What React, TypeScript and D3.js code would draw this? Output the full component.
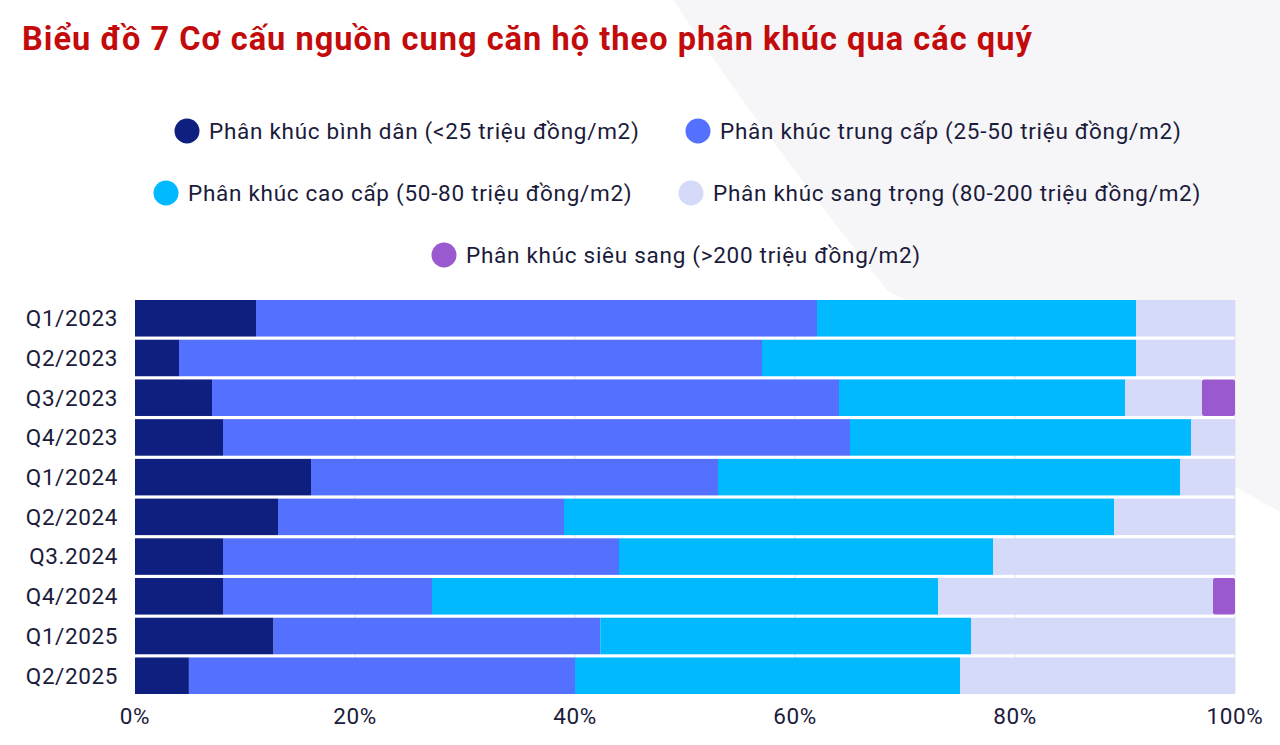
import React from "react";
import * as d3 from "d3";

const categories = ["Q1/2023", "Q2/2023", "Q3/2023", "Q4/2023", "Q1/2024", "Q2/2024", "Q3.2024", "Q4/2024", "Q1/2025", "Q2/2025"];
const seriesNames = [
  "Phân khúc bình dân (<25 triệu đồng/m2)",
  "Phân khúc trung cấp (25-50 triệu đồng/m2)",
  "Phân khúc cao cấp (50-80 triệu đồng/m2)",
  "Phân khúc sang trọng (80-200 triệu đồng/m2)",
  "Phân khúc siêu sang (>200 triệu đồng/m2)",
];
const binhDan = [11, 4, 7, 8, 16, 13, 8, 8, 12.6, 4.9];
const trungCap = [51, 53, 57, 57, 37, 26, 36, 19, 29.7, 35.1];
const caoCap = [29, 34, 26, 31, 42, 50, 34, 46, 33.7, 35];
const sangTrong = [9, 9, 7, 4, 5, 11, 22, 25, 24, 25];
const sieuSang = [0, 0, 3, 0, 0, 0, 0, 2, 0, 0];
const xTicks = [0, 20, 40, 60, 80, 100];
const colors = ["#0e1f80", "#5470ff", "#00b9ff", "#d5daf9", "#9b59cf"];

const W = 1280, H = 745;
const textColor = "#1b1b3b";
const FONT = "Roboto, 'Noto Sans', sans-serif";

export default function App() {
  const series = [binhDan, trungCap, caoCap, sangTrong, sieuSang];
  const x = d3.scaleLinear().domain([0, 100]).range([135, 1235]);
  const y = d3.scaleBand().domain(categories).range([300, 694]).paddingInner(0.08).paddingOuter(0);
  const rows = categories.map((c, i) => {
    const obj: any = { cat: c };
    series.forEach((s, k) => (obj["s" + k] = s[i]));
    return obj;
  });
  const stack = d3.stack<any>().keys(series.map((_, k) => "s" + k))(rows);

  const legend = [
    { k: 0, cx: 187, cy: 131 },
    { k: 1, cx: 698, cy: 131 },
    { k: 2, cx: 166, cy: 193 },
    { k: 3, cx: 691, cy: 193 },
    { k: 4, cx: 444, cy: 255 },
  ];

  const bgPath = "M673,0 L1280,0 L1280,512 Q960,330 887,290 Q760,130 673,0 Z";

  return (
    <svg width={W} height={H} style={{ display: "block", position: "absolute", left: 0, top: 0 }} fontFamily={FONT}>
      <rect width={W} height={H} fill="#ffffff" />
      <path d={bgPath} fill="#f6f6f8" />
      <text x={22} y={50} fill="#c30b0b" fontSize={32.5} fontWeight={700} letterSpacing={1.05}>
        Biểu đồ 7 Cơ cấu nguồn cung căn hộ theo phân khúc qua các quý
      </text>
      {legend.map((l) => (
        <g key={l.k}>
          <circle cx={l.cx} cy={l.cy} r={12.5} fill={colors[l.k]} />
          <text x={l.cx + 22} y={l.cy} dy="0.35em" fontSize={22.5} letterSpacing={0.72} fill={textColor}>
            {seriesNames[l.k]}
          </text>
        </g>
      ))}
      <rect x={x(0)} y={300} width={x(100) - x(0)} height={394} fill="#ffffff" />
      {xTicks.slice(1).map((t) => (
        <line key={t} x1={x(t)} x2={x(t)} y1={300} y2={694} stroke="#e4e4ea" strokeWidth={1} />
      ))}
      {stack.map((layer, k) => (
        <g key={k} fill={colors[k]}>
          {layer.map((d, i) =>
            d[1] - d[0] > 0 ? (
              <rect
                key={i}
                x={x(d[0])}
                y={y(categories[i])!}
                width={x(d[1]) - x(d[0])}
                height={y.bandwidth()}
                rx={k === 4 ? 2 : 0}
              />
            ) : null
          )}
        </g>
      ))}
      {categories.map((c) => (
        <text key={c} x={118} y={y(c)! + y.bandwidth() / 2} dy="0.35em" textAnchor="end" fontSize={22.5} letterSpacing={0.6} fill={textColor}>
          {c}
        </text>
      ))}
      {xTicks.map((t) => (
        <text key={t} x={x(t)} y={716} dy="0.35em" textAnchor="middle" fontSize={22.5} letterSpacing={0.6} fill={textColor}>
          {t}%
        </text>
      ))}
    </svg>
  );
}
